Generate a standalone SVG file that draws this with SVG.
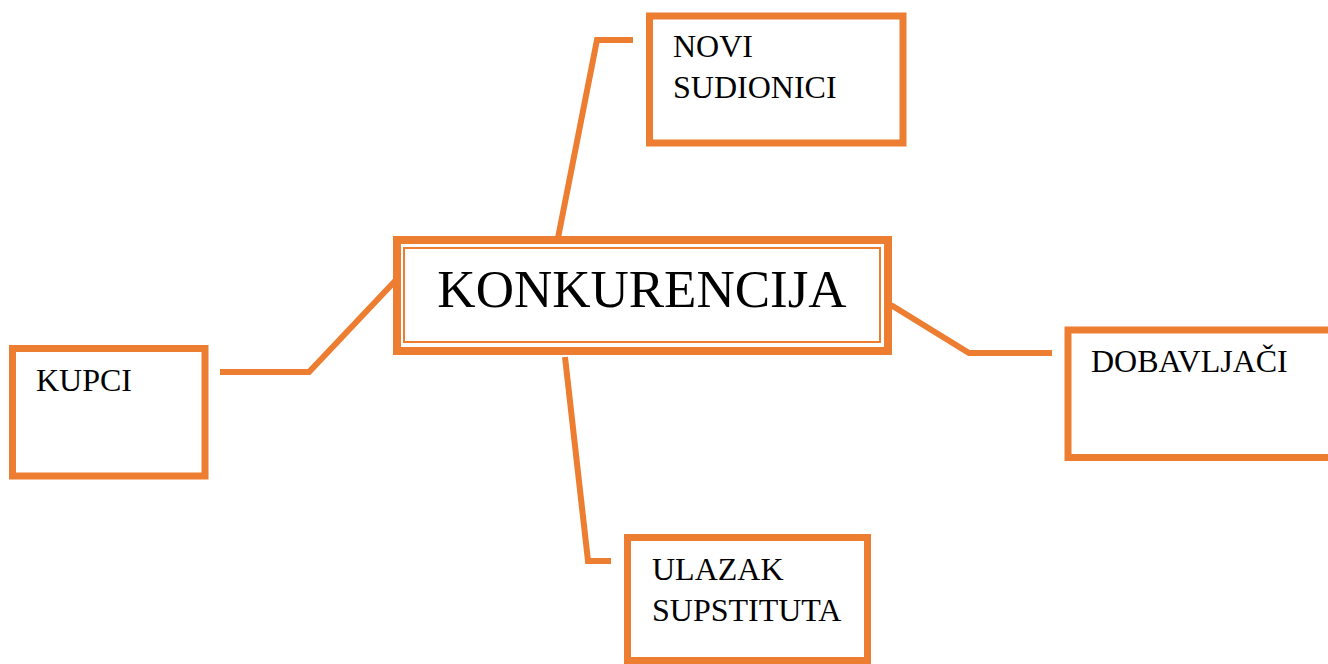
<svg xmlns="http://www.w3.org/2000/svg" width="1328" height="664" viewBox="0 0 1328 664">
<style>
.box{fill:#fff;stroke:#ED7D31;stroke-width:7}
.line{fill:none;stroke:#ED7D31;stroke-width:6;stroke-linejoin:miter}
text{font-family:'Liberation Serif','Times New Roman',Times,serif;fill:#000}
.t{font-size:32px}
</style>
<rect width="1328" height="664" fill="#fff"/>
<g id="connectors">
<polyline class="line" points="557,243 597,40 633,40"/>
<polyline class="line" points="220,372 309,372 396,280"/>
<polyline class="line" points="891,305 969,353 1052,353"/>
<polyline class="line" points="565,357 588,561 611,561"/>
</g>
<g id="konkurencija">
<rect x="397" y="240" width="491" height="111" fill="#fff" stroke="#ED7D31" stroke-width="8"/>
<rect x="404" y="248" width="476" height="94" fill="none" stroke="#ED7D31" stroke-width="2"/>
<text x="642" y="307" text-anchor="middle" font-size="53">KONKURENCIJA</text>
</g>
<g id="novi-sudionici">
<rect class="box" x="649.5" y="16" width="253.5" height="127"/>
<text class="t" x="673" y="57">NOVI</text>
<text class="t" x="673" y="98">SUDIONICI</text>
</g>
<g id="kupci">
<rect class="box" x="12.5" y="348.5" width="192.5" height="127.5"/>
<text class="t" x="36" y="391">KUPCI</text>
</g>
<g id="dobavljaci">
<rect class="box" x="1068" y="330" width="300" height="127.5"/>
<text class="t" x="1091" y="372">DOBAVLJAČI</text>
</g>
<g id="ulazak-supstituta">
<rect class="box" x="627.5" y="537.5" width="240" height="123"/>
<text class="t" x="652" y="580">ULAZAK</text>
<text class="t" x="652" y="621">SUPSTITUTA</text>
</g>
</svg>
